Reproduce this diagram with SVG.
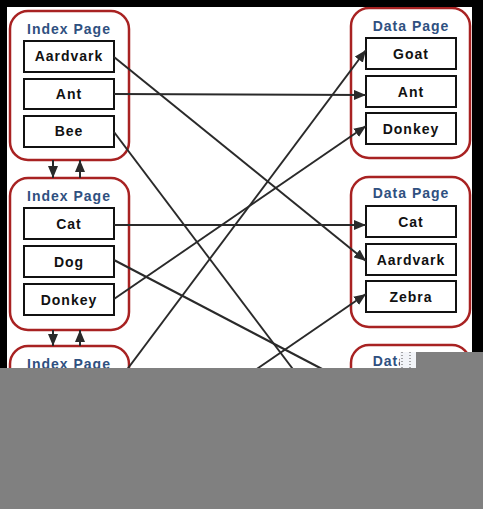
<svg xmlns="http://www.w3.org/2000/svg" width="483" height="509" viewBox="0 0 483 509">
<style>
.page{fill:#ffffff;stroke:#a82222;stroke-width:2.5}
.box{fill:#ffffff;stroke:#111111;stroke-width:2}
.title{font-family:"Liberation Sans",Arial,sans-serif;font-size:14px;font-weight:bold;fill:#2f5080;letter-spacing:1px;text-anchor:middle}
.lbl{font-family:"Liberation Sans",Arial,sans-serif;font-size:14px;font-weight:bold;fill:#111111;letter-spacing:1px;text-anchor:middle}
.conn{stroke:#2a2a2a;stroke-width:2;fill:none;marker-end:url(#ah)}
</style>
<defs>
<marker id="ah" markerUnits="userSpaceOnUse" markerWidth="12" markerHeight="10" refX="12" refY="5" orient="auto">
<path d="M0,0 L12,5 L0,10 Z" fill="#2a2a2a"/>
</marker>
</defs>
<rect x="0" y="0" width="483" height="509" fill="#ffffff"/>
<g id="index-page-1">
<rect class="page" x="10" y="11" width="119" height="149" rx="18"/>
<text class="title" x="69" y="34">Index Page</text>
<rect class="box" x="24" y="41" width="90" height="31"/><text class="lbl" x="69" y="61">Aardvark</text>
<rect class="box" x="24" y="79" width="90" height="30"/><text class="lbl" x="69" y="99">Ant</text>
<rect class="box" x="24" y="116" width="90" height="31"/><text class="lbl" x="69" y="136">Bee</text>
</g>
<g id="index-page-2">
<rect class="page" x="10" y="178" width="119" height="152" rx="18"/>
<text class="title" x="69" y="201">Index Page</text>
<rect class="box" x="24" y="208" width="90" height="31"/><text class="lbl" x="69" y="229">Cat</text>
<rect class="box" x="24" y="246" width="90" height="31"/><text class="lbl" x="69" y="267">Dog</text>
<rect class="box" x="24" y="284" width="90" height="31"/><text class="lbl" x="69" y="305">Donkey</text>
</g>
<g id="index-page-3">
<rect class="page" x="10" y="346" width="119" height="152" rx="18"/>
<text class="title" x="69" y="369">Index Page</text>
</g>
<g id="data-page-1">
<rect class="page" x="351" y="8" width="119" height="150" rx="18"/>
<text class="title" x="411" y="31">Data Page</text>
<rect class="box" x="366" y="38" width="90" height="31"/><text class="lbl" x="411" y="59">Goat</text>
<rect class="box" x="366" y="76" width="90" height="31"/><text class="lbl" x="411" y="97">Ant</text>
<rect class="box" x="366" y="113" width="90" height="31"/><text class="lbl" x="411" y="134">Donkey</text>
</g>
<g id="data-page-2">
<rect class="page" x="351" y="177" width="119" height="150" rx="18"/>
<text class="title" x="411" y="198">Data Page</text>
<rect class="box" x="366" y="206" width="90" height="31"/><text class="lbl" x="411" y="227">Cat</text>
<rect class="box" x="366" y="244" width="90" height="31"/><text class="lbl" x="411" y="265">Aardvark</text>
<rect class="box" x="366" y="281" width="90" height="31"/><text class="lbl" x="411" y="302">Zebra</text>
</g>
<g id="data-page-3">
<rect class="page" x="351" y="345" width="119" height="150" rx="18"/>
<text class="title" x="411" y="366">Data Page</text>
</g>
<g id="connectors">
<line class="conn" x1="114" y1="57" x2="366" y2="261"/>
<line class="conn" x1="114" y1="94" x2="366" y2="95"/>
<line class="conn" x1="114" y1="132" x2="366" y2="466"/>
<line class="conn" x1="114" y1="225" x2="366" y2="225"/>
<line class="conn" x1="114" y1="260" x2="366" y2="392"/>
<line class="conn" x1="114" y1="299" x2="366" y2="126"/>
<line class="conn" x1="114" y1="387" x2="366" y2="50"/>
<line class="conn" x1="114" y1="467" x2="366" y2="294"/>
<line class="conn" x1="53" y1="160" x2="53" y2="178"/>
<line class="conn" x1="80" y1="178" x2="80" y2="160"/>
<line class="conn" x1="53" y1="330" x2="53" y2="346"/>
<line class="conn" x1="80" y1="346" x2="80" y2="330"/>
</g>
<g id="frame">
<rect x="0" y="0" width="483" height="7" fill="#000000"/>
<rect x="0" y="0" width="7" height="368" fill="#000000"/>
<rect x="472" y="0" width="11" height="352" fill="#000000"/>
<rect x="400" y="352" width="16" height="16" fill="#f2f4f8"/>
<line x1="402" y1="352" x2="402" y2="368" stroke="#555555" stroke-width="1" stroke-dasharray="1,2"/>
<line x1="410" y1="352" x2="410" y2="368" stroke="#555555" stroke-width="1" stroke-dasharray="1,2"/>
<rect x="416" y="352" width="67" height="16" fill="#808080"/>
<rect x="0" y="368" width="483" height="141" fill="#808080"/>
</g>
</svg>
